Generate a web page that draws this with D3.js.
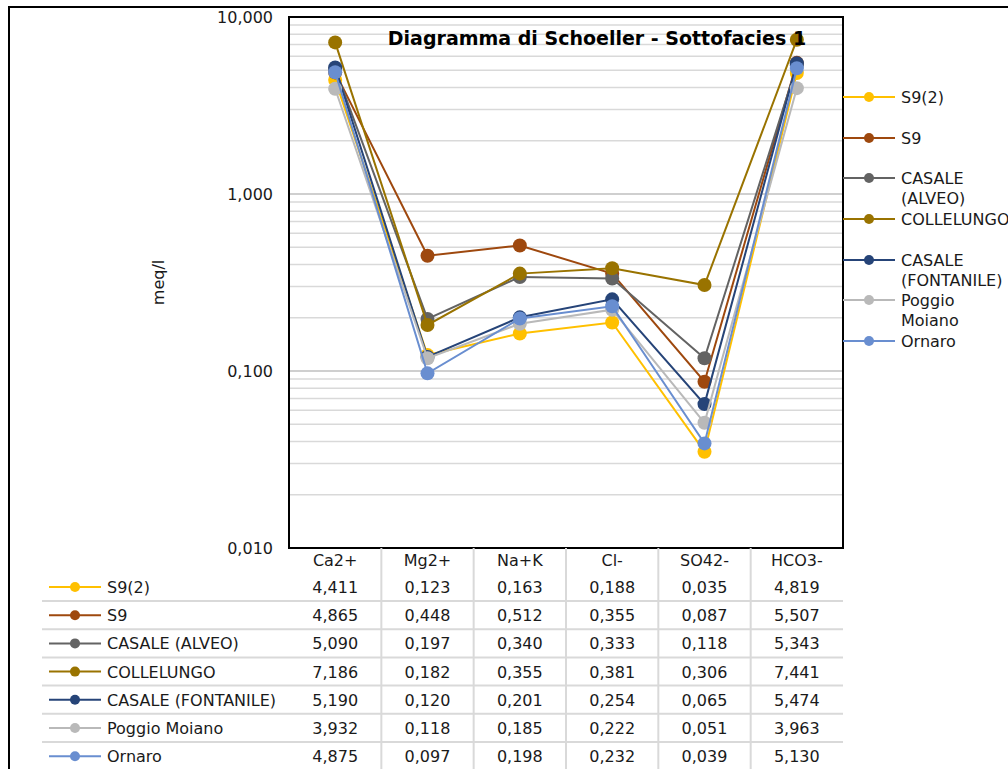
<!DOCTYPE html>
<html>
<head>
<meta charset="utf-8">
<script src="https://cdn.jsdelivr.net/npm/d3@7"></script>
<style>
  body { margin: 0; background: #fff; }
  svg { display: block; }
</style>
</head>
<body>
<div id="vis"></div>
<script>
// data
const categories = ["Ca2+", "Mg2+", "Na+K", "Cl-", "SO42-", "HCO3-"];
const seriesNames = ["S9(2)", "S9", "CASALE (ALVEO)", "COLLELUNGO", "CASALE (FONTANILE)", "Poggio Moiano", "Ornaro"];
const legendLabels = [["S9(2)"], ["S9"], ["CASALE", "(ALVEO)"], ["COLLELUNGO"], ["CASALE", "(FONTANILE)"], ["Poggio", "Moiano"], ["Ornaro"]];
const seriesColors = ["#ffc000", "#9e480e", "#636363", "#997300", "#264478", "#b9b9b9", "#698ed0"];
const s9_2 = [4.411, 0.123, 0.163, 0.188, 0.035, 4.819];
const s9 = [4.865, 0.448, 0.512, 0.355, 0.087, 5.507];
const casaleAlveo = [5.090, 0.197, 0.340, 0.333, 0.118, 5.343];
const collelungo = [7.186, 0.182, 0.355, 0.381, 0.306, 7.441];
const casaleFontanile = [5.190, 0.120, 0.201, 0.254, 0.065, 5.474];
const poggioMoiano = [3.932, 0.118, 0.185, 0.222, 0.051, 3.963];
const ornaro = [4.875, 0.097, 0.198, 0.232, 0.039, 5.130];
const yTicks = [0.01, 0.1, 1, 10];
const title = "Diagramma di Schoeller - Sottofacies 1";

const values = [s9_2, s9, casaleAlveo, collelungo, casaleFontanile, poggioMoiano, ornaro];
const series = seriesNames.map((name, i) => ({
  name: name, color: seriesColors[i], legend: legendLabels[i],
  points: categories.map((c, j) => ({cat: c, v: values[i][j]}))
}));

const width = 1008, height = 769;
const margin = ({top: 17, right: 165, bottom: 221, left: 289});
const font = "'DejaVu Sans', Verdana, sans-serif";
const fs = 16;
const textColor = "#1a1a1a";
const fmt = v => d3.format(".3f")(v).replace(".", ",");

const svg = d3.create("svg").attr("width", width).attr("height", height);

// outer chart frame (runs off the right/bottom edge)
svg.append("rect")
  .attr("x", 9).attr("y", 7)
  .attr("width", 1030).attr("height", 800)
  .attr("fill", "none").attr("stroke", "#000").attr("stroke-width", 2);

const x = d3.scaleBand()
  .domain(categories)
  .range([margin.left, width - margin.right]);

const y = d3.scaleLog()
  .domain([0.01, 10])
  .range([height - margin.bottom, margin.top]);

// gridlines: minor first, then decades
const minor = [];
[0.01, 0.1, 1].forEach(d => { for (let k = 2; k <= 9; k++) minor.push(d * k); });
svg.append("g").selectAll("line").data(minor).join("line")
  .attr("x1", margin.left).attr("x2", width - margin.right)
  .attr("y1", d => y(d)).attr("y2", d => y(d))
  .attr("stroke", "#d9d9d9").attr("stroke-width", 1.5);
svg.append("g").selectAll("line").data(yTicks).join("line")
  .attr("x1", margin.left).attr("x2", width - margin.right)
  .attr("y1", d => y(d)).attr("y2", d => y(d))
  .attr("stroke", "#bfbfbf").attr("stroke-width", 1.5);

// y axis labels
const yAxis = svg.append("g")
  .attr("transform", `translate(${margin.left - 16},0)`)
  .call(d3.axisLeft(y).tickValues(yTicks).tickFormat(fmt).tickSize(0).tickPadding(0));
yAxis.select(".domain").remove();
yAxis.selectAll("text")
  .attr("font-family", font).attr("font-size", fs).attr("fill", textColor);

svg.append("text")
  .attr("transform", `translate(164,${(margin.top + height - margin.bottom) / 2}) rotate(-90)`)
  .attr("text-anchor", "middle")
  .attr("font-family", font).attr("font-size", fs).attr("fill", textColor)
  .text("meq/l");

// lines + markers
const line = d3.line()
  .x(d => x(d.cat) + x.bandwidth() / 2)
  .y(d => y(d.v));

series.forEach(s => {
  const g = svg.append("g");
  g.append("path")
    .attr("d", line(s.points))
    .attr("fill", "none").attr("stroke", s.color).attr("stroke-width", 2);
  g.selectAll("circle").data(s.points).join("circle")
    .attr("cx", d => x(d.cat) + x.bandwidth() / 2)
    .attr("cy", d => y(d.v))
    .attr("r", 7)
    .attr("fill", s.color);
});

// plot border
svg.append("rect")
  .attr("x", margin.left).attr("y", margin.top)
  .attr("width", width - margin.left - margin.right)
  .attr("height", height - margin.top - margin.bottom)
  .attr("fill", "none").attr("stroke", "#000").attr("stroke-width", 2);

svg.append("text")
  .attr("x", 597).attr("y", 45)
  .attr("text-anchor", "middle")
  .attr("font-family", font).attr("font-size", 19).attr("font-weight", 700)
  .text(title);

// legend on the right
const legendY = [97, 138, 178, 219, 260, 300, 341];
const legend = svg.append("g");
series.forEach((s, i) => {
  const g = legend.append("g").attr("transform", `translate(${width - margin.right},${legendY[i]})`);
  g.append("line").attr("x1", 0).attr("x2", 52)
    .attr("stroke", s.color).attr("stroke-width", 2);
  g.append("circle").attr("cx", 26).attr("r", 5).attr("fill", s.color);
  g.append("text")
    .attr("x", 58).attr("y", 6)
    .attr("font-family", font).attr("font-size", fs).attr("fill", textColor)
    .selectAll("tspan").data(s.legend).join("tspan")
      .attr("x", 58).attr("dy", (d, k) => k === 0 ? 0 : 20)
      .text(d => d);
});

// data table
const rowH = 28.2;
const tableTop = height - margin.bottom;
const headerY = tableTop + 12;
const table = svg.append("g");

// column separators
table.selectAll(".sep").data(categories.slice(1)).join("line")
  .attr("class", "sep")
  .attr("x1", d => x(d)).attr("x2", d => x(d))
  .attr("y1", tableTop).attr("y2", height)
  .attr("stroke", "#d9d9d9").attr("stroke-width", 2);

// row separators
table.selectAll(".rowline").data(d3.range(1, series.length)).join("line")
  .attr("class", "rowline")
  .attr("x1", 42).attr("x2", width - margin.right)
  .attr("y1", i => tableTop + 53 + (i - 1) * rowH)
  .attr("y2", i => tableTop + 53 + (i - 1) * rowH)
  .attr("stroke", "#d9d9d9").attr("stroke-width", 2);

table.selectAll(".head").data(categories).join("text")
  .attr("class", "head")
  .attr("x", d => x(d) + x.bandwidth() / 2)
  .attr("y", headerY + 6)
  .attr("text-anchor", "middle")
  .attr("font-family", font).attr("font-size", fs).attr("fill", textColor)
  .text(d => d);

series.forEach((s, i) => {
  const cy = headerY + 27 + i * rowH;
  const g = table.append("g");
  g.append("line").attr("x1", 49).attr("x2", 101).attr("y1", cy).attr("y2", cy)
    .attr("stroke", s.color).attr("stroke-width", 2);
  g.append("circle").attr("cx", 75).attr("cy", cy).attr("r", 5).attr("fill", s.color);
  g.append("text").attr("x", 107).attr("y", cy + 6)
    .attr("font-family", font).attr("font-size", fs).attr("fill", textColor)
    .text(s.name);
  g.selectAll(".val").data(s.points).join("text")
    .attr("class", "val")
    .attr("x", d => x(d.cat) + x.bandwidth() / 2)
    .attr("y", cy + 6)
    .attr("text-anchor", "middle")
    .attr("font-family", font).attr("font-size", fs).attr("fill", textColor)
    .text(d => fmt(d.v));
});

document.getElementById("vis").appendChild(svg.node());
</script>
</body>
</html>
